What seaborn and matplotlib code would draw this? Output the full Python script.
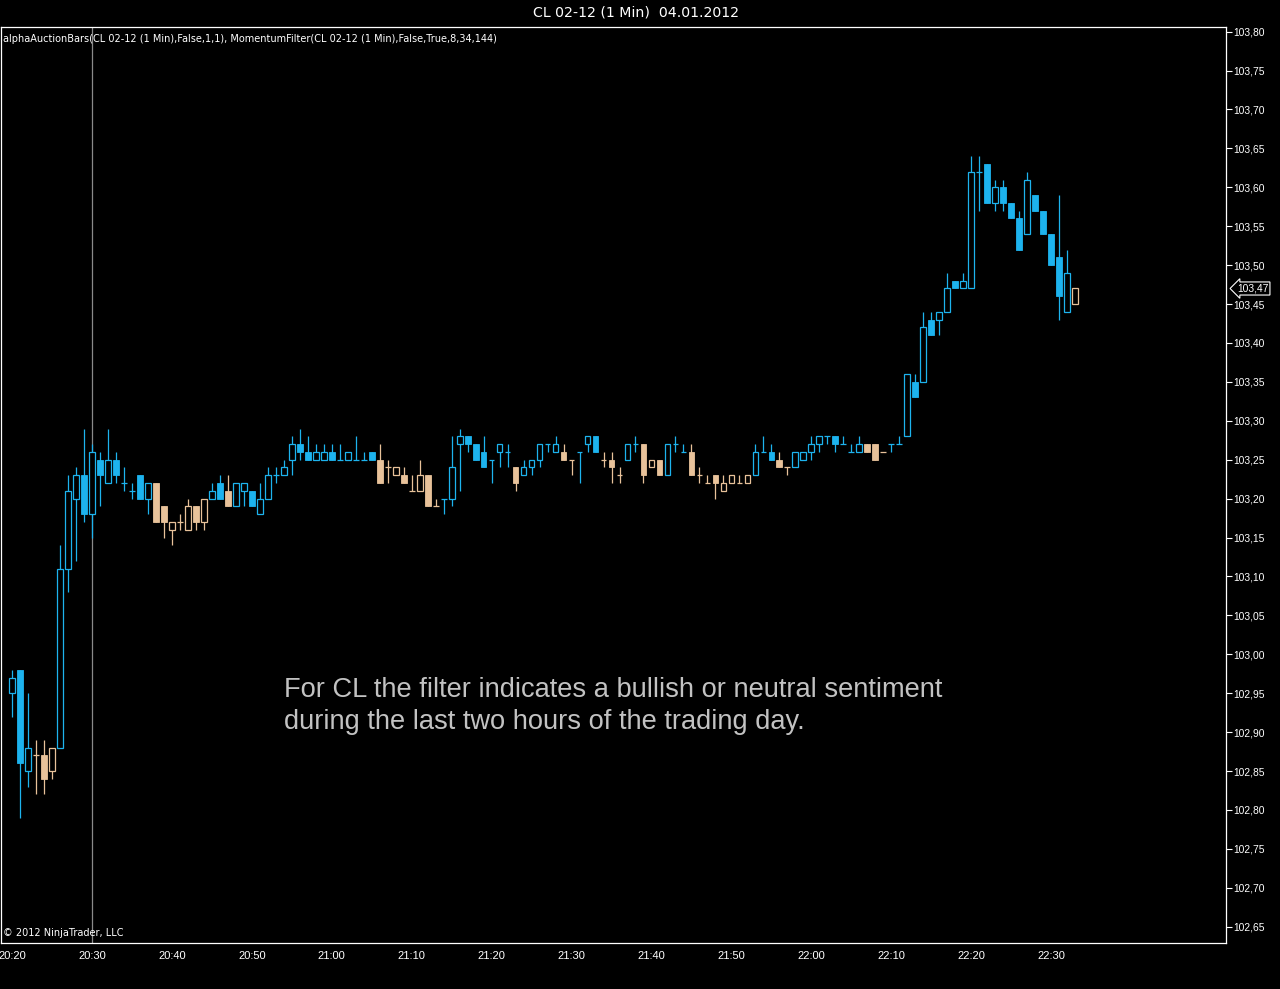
import numpy as np
import pandas as pd
import matplotlib
matplotlib.use("Agg")
import matplotlib.pyplot as plt
import matplotlib.transforms as mtransforms
import seaborn as sns

# ---------------- data (1-minute bars, CL 02-12, 04.01.2012, from 20:20) ----------------
opens = [102.95, 102.98, 102.85, 102.87, 102.87, 102.85, 102.88, 103.11, 103.20, 103.23,
         103.18, 103.25, 103.22, 103.25, 103.22, 103.21, 103.23, 103.20, 103.22, 103.19,
         103.16, 103.17, 103.16, 103.19, 103.17, 103.20, 103.22, 103.21, 103.19, 103.21,
         103.21, 103.18, 103.20, 103.23, 103.23, 103.25, 103.27, 103.26, 103.25, 103.25,
         103.26, 103.25, 103.25, 103.25, 103.25, 103.26, 103.25, 103.24, 103.23, 103.23,
         103.21, 103.21, 103.23, 103.19, 103.20, 103.20, 103.27, 103.28, 103.27, 103.26,
         103.25, 103.26, 103.26, 103.24, 103.23, 103.24, 103.25, 103.27, 103.26, 103.26,
         103.25, 103.26, 103.27, 103.28, 103.25, 103.25, 103.23, 103.25, 103.27, 103.27,
         103.24, 103.25, 103.23, 103.27, 103.26, 103.26, 103.23, 103.22, 103.23, 103.21,
         103.22, 103.22, 103.22, 103.23, 103.26, 103.26, 103.25, 103.24, 103.24, 103.25,
         103.26, 103.27, 103.28, 103.28, 103.27, 103.26, 103.26, 103.27, 103.27, 103.26,
         103.27, 103.27, 103.28, 103.35, 103.35, 103.43, 103.43, 103.44, 103.48, 103.47,
         103.47, 103.62, 103.63, 103.58, 103.60, 103.58, 103.56, 103.54, 103.59, 103.57,
         103.54, 103.51, 103.44, 103.45]
highs = [102.98, 102.98, 102.95, 102.89, 102.89, 102.88, 103.14, 103.23, 103.24, 103.29,
         103.27, 103.26, 103.29, 103.26, 103.24, 103.22, 103.23, 103.22, 103.22, 103.19,
         103.17, 103.18, 103.20, 103.19, 103.20, 103.22, 103.23, 103.23, 103.22, 103.22,
         103.21, 103.22, 103.24, 103.24, 103.25, 103.28, 103.29, 103.28, 103.27, 103.27,
         103.27, 103.27, 103.26, 103.28, 103.26, 103.26, 103.27, 103.25, 103.24, 103.24,
         103.23, 103.25, 103.23, 103.20, 103.20, 103.28, 103.29, 103.28, 103.27, 103.28,
         103.25, 103.27, 103.27, 103.24, 103.25, 103.25, 103.27, 103.27, 103.28, 103.27,
         103.25, 103.26, 103.28, 103.28, 103.26, 103.26, 103.24, 103.27, 103.28, 103.27,
         103.25, 103.25, 103.27, 103.28, 103.27, 103.27, 103.24, 103.23, 103.23, 103.23,
         103.23, 103.23, 103.23, 103.27, 103.28, 103.27, 103.26, 103.24, 103.26, 103.26,
         103.28, 103.28, 103.28, 103.28, 103.28, 103.27, 103.28, 103.27, 103.27, 103.26,
         103.27, 103.28, 103.36, 103.36, 103.44, 103.44, 103.44, 103.49, 103.48, 103.49,
         103.64, 103.64, 103.63, 103.61, 103.61, 103.58, 103.57, 103.62, 103.59, 103.57,
         103.54, 103.59, 103.52, 103.47]
lows = [102.92, 102.79, 102.83, 102.82, 102.82, 102.84, 102.88, 103.08, 103.12, 103.17,
        103.15, 103.19, 103.22, 103.22, 103.21, 103.20, 103.20, 103.18, 103.17, 103.15,
        103.14, 103.16, 103.16, 103.16, 103.16, 103.20, 103.20, 103.19, 103.19, 103.19,
        103.19, 103.18, 103.20, 103.22, 103.23, 103.23, 103.25, 103.25, 103.25, 103.25,
        103.25, 103.25, 103.25, 103.25, 103.25, 103.25, 103.22, 103.22, 103.23, 103.22,
        103.21, 103.21, 103.19, 103.19, 103.18, 103.19, 103.21, 103.26, 103.25, 103.24,
        103.22, 103.24, 103.24, 103.21, 103.23, 103.23, 103.24, 103.26, 103.26, 103.25,
        103.23, 103.22, 103.26, 103.26, 103.24, 103.22, 103.22, 103.25, 103.26, 103.22,
        103.24, 103.23, 103.23, 103.26, 103.26, 103.23, 103.22, 103.22, 103.20, 103.21,
        103.22, 103.22, 103.22, 103.23, 103.26, 103.25, 103.24, 103.23, 103.24, 103.25,
        103.25, 103.26, 103.27, 103.26, 103.27, 103.26, 103.26, 103.26, 103.25, 103.26,
        103.26, 103.27, 103.28, 103.33, 103.35, 103.41, 103.41, 103.44, 103.47, 103.47,
        103.47, 103.57, 103.58, 103.57, 103.57, 103.56, 103.52, 103.54, 103.57, 103.54,
        103.50, 103.43, 103.44, 103.45]
closes = [102.97, 102.86, 102.88, 102.87, 102.84, 102.88, 103.11, 103.21, 103.23, 103.18,
          103.26, 103.23, 103.25, 103.23, 103.22, 103.21, 103.20, 103.22, 103.17, 103.17,
          103.17, 103.17, 103.19, 103.17, 103.20, 103.21, 103.20, 103.19, 103.22, 103.22,
          103.19, 103.20, 103.23, 103.23, 103.24, 103.27, 103.26, 103.25, 103.26, 103.26,
          103.25, 103.25, 103.26, 103.25, 103.25, 103.25, 103.22, 103.24, 103.24, 103.22,
          103.21, 103.23, 103.19, 103.19, 103.20, 103.24, 103.28, 103.27, 103.25, 103.24,
          103.25, 103.27, 103.26, 103.22, 103.24, 103.25, 103.27, 103.27, 103.27, 103.25,
          103.25, 103.26, 103.28, 103.26, 103.25, 103.24, 103.23, 103.27, 103.27, 103.23,
          103.25, 103.23, 103.27, 103.27, 103.26, 103.23, 103.23, 103.22, 103.22, 103.22,
          103.23, 103.22, 103.23, 103.26, 103.26, 103.25, 103.24, 103.24, 103.26, 103.26,
          103.27, 103.28, 103.28, 103.27, 103.27, 103.26, 103.27, 103.26, 103.25, 103.26,
          103.27, 103.27, 103.36, 103.33, 103.42, 103.41, 103.44, 103.47, 103.47, 103.48,
          103.62, 103.62, 103.58, 103.60, 103.58, 103.56, 103.52, 103.61, 103.57, 103.54,
          103.50, 103.46, 103.49, 103.47]
# momentum filter state: B = bullish/neutral (blue), T = bearish (tan)
states = list("BBBTTTBBBBBBBBBBBBTTTTTTTBBTBBBBBBBBBBBBBBBBBBTTTTTTTTBBBBBBBBBTBBBBBTTBBBTTTBBTTTBBBTTTTTTTTBBBTTBBBBBBBBBTTTBBBBBBBBBBBBBBBBBBBBBBBTTTTT")

time_labels = ["20:20", "20:30", "20:40", "20:50", "21:00", "21:10", "21:20",
               "21:30", "21:40", "21:50", "22:00", "22:10", "22:20", "22:30"]
price_ticks = [round(102.65 + 0.05 * k, 2) for k in range(24)]
last_price = 103.47

df = pd.DataFrame({"open": opens, "high": highs, "low": lows, "close": closes,
                   "state": states[:len(opens)]})
df["minute"] = np.arange(len(df))

# ---------------- styling ----------------
BLUE = "#1DB3EE"
TAN = "#E8C29A"
sns.set_theme(style="dark", rc={"axes.facecolor": "black", "figure.facecolor": "black",
                                 "axes.edgecolor": "white", "text.color": "white",
                                 "xtick.color": "white", "ytick.color": "white"})
plt.rcParams["font.family"] = ["Liberation Sans", "DejaVu Sans"]
UI_FONT = ["DejaVu Sans"]

fig = plt.figure(figsize=(12.8, 9.89), dpi=100)
ax = fig.add_axes([0.0008, 1 - 943 / 989, 1226 / 1280 - 0.0008, (943 - 27) / 989])
ax.set_facecolor("black")

colors = [BLUE if s == "B" else TAN for s in df["state"]]
bw = 0.72

# wicks
ax.vlines(df["minute"], df["low"], df["high"], colors=colors, lw=0.9, zorder=2)

for x, o, c, col in zip(df["minute"], df["open"], df["close"], colors):
    if abs(c - o) < 1e-9:
        ax.hlines(o, x - bw / 2, x + bw / 2, colors=col, lw=0.9, zorder=3)
    elif c > o:
        ax.bar(x, c - o, bottom=o, width=bw, facecolor="black", edgecolor=col,
               lw=0.9, zorder=3)
    else:
        ax.bar(x, o - c, bottom=c, width=bw, facecolor=col, edgecolor=col,
               lw=0.6, zorder=3)

# session start line
ax.axvline(10, color="#8a8a8a", lw=0.9, zorder=1)

ax.set_xlim(-1.375, 151.875)
ax.set_ylim(102.629, 103.806)

ax.set_xticks(np.arange(0, 10 * len(time_labels), 10))
ax.set_xticklabels(time_labels, fontsize=8)
ax.yaxis.tick_right()
ax.set_yticks(price_ticks)
ax.set_yticklabels([f"{p:.2f}".replace(".", ",") for p in price_ticks], fontsize=7.4)
ax.tick_params(axis="both", which="both", direction="out", length=4, width=0.8,
               colors="white", pad=1.5)
ax.tick_params(axis="x", pad=2)
ax.grid(False)
for side in ["left", "right", "top", "bottom"]:
    ax.spines[side].set_color("white")
    ax.spines[side].set_linewidth(0.9)
ax.set_xlabel("")
ax.set_ylabel("")

# last price marker
trans = mtransforms.blended_transform_factory(ax.transAxes, ax.transData)
ax.text(1.009, last_price, f"{last_price:.2f}".replace(".", ","), transform=trans,
        fontsize=7.4, color="white", va="center", ha="left", clip_on=False,
        bbox=dict(boxstyle="larrow,pad=0.15", fc="black", ec="white", lw=0.8))

# texts
fig.text(0.497, 1 - 13 / 989, "CL 02-12 (1 Min)  04.01.2012", ha="center", va="center",
         fontsize=10.2, color="white", family=UI_FONT)
ax.text(0.002, 1 - 12 / 916, "alphaAuctionBars(CL 02-12 (1 Min),False,1,1), "
        "MomentumFilter(CL 02-12 (1 Min),False,True,8,34,144)",
        transform=ax.transAxes, ha="left", va="center", fontsize=7, color="white",
        family=UI_FONT)
ax.text(0.002, 5 / 916, "\u00a9 2012 NinjaTrader, LLC", transform=ax.transAxes,
        ha="left", va="bottom", fontsize=7, color="white", family=UI_FONT)
fig.text(284 / 1280, 1 - 706 / 989,
         "For CL the filter indicates a bullish or neutral sentiment\n"
         "during the last two hours of the trading day.",
         ha="left", va="center", fontsize=19.6, color="#C2C2C2", linespacing=1.28)

fig.savefig("out.png", dpi=100, facecolor="black")
